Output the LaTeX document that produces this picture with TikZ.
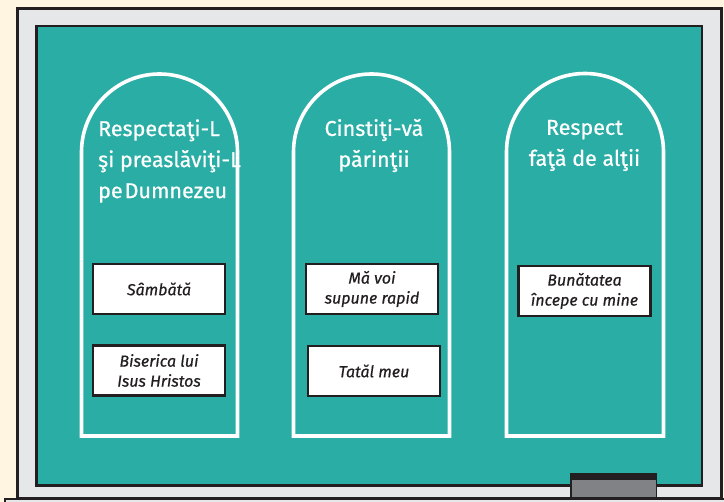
\documentclass[tikz,border=0pt]{standalone}
\usepackage{fontspec}
\setmainfont{Fira Sans}
\newfontfamily\titlefont[FakeBold=0.6]{Fira Sans}
\newfontfamily\cardfont[ItalicFeatures={FakeBold=0.6}]{Fira Sans}
\definecolor{cream}{HTML}{FFF5E1}
\definecolor{frame}{HTML}{E6E7E8}
\definecolor{board}{HTML}{2AADA5}
\definecolor{ink}{HTML}{231F20}
\definecolor{chalk}{HTML}{808285}
\tikzset{
  title/.style={text=white,font=\titlefont\fontsize{21.5}{31}\selectfont,inner sep=0pt},
  card/.style={draw=ink,line width=2.4pt,fill=white,minimum width=132pt,minimum height=50pt,inner sep=0pt,align=center,text=ink,font=\cardfont\fontsize{16}{20}\selectfont\itshape},
  arch/.style={draw=white,line width=3.6pt}
}
\begin{document}
\begin{tikzpicture}[x=1pt,y=-1pt]
\useasboundingbox (0,0) rectangle (724,502);
\fill[cream] (0,0) rectangle (724,502);
\draw[ink,line width=3pt,fill=frame] (17.5,8.5) rectangle (721.5,499);
\draw[ink,line width=2.5pt,fill=board] (36.5,26) rectangle (702,485.5);
\draw[arch] (81.5,436) -- (81.5,152) arc[start angle=180,end angle=360,radius=78] -- (237.5,436) -- cycle;
\draw[arch] (293.5,436) -- (293.5,152) arc[start angle=180,end angle=360,radius=78] -- (449.5,436) -- cycle;
\draw[arch] (506.5,436) -- (506.5,152) arc[start angle=180,end angle=360,radius=78.5] -- (663.5,436) -- cycle;
\node[title,align=left] (t1) at (169.5,161) {Respectaţi-L\\şi preaslăviţi-L\\pe\hspace{2pt}Dumnezeu};
\node[title,align=center] (t2) at (374,145.5) {Cinstiţi-vă\\părinţii\hspace{9pt}};
\node[title,align=center] (t3) at (584.5,145.5) {Respect\\faţă de alţii};
\node[card] (c1) at (159,289) {Sâmbătă};
\node[card] (c2) at (159,370.5) {Biserica lui\\Isus Hristos};
\node[card] (c3) at (372,289) {Mă voi\\supune rapid};
\node[card] (c4) at (374,371) {Tatăl meu};
\node[card] (c5) at (584.5,291) {Bunătatea\\începe cu mine};
\fill[ink] (570,473) rectangle (657,499);
\fill[chalk] (571.5,480) rectangle (655.5,497.5);
\fill[frame] (5,498) rectangle (724,502);
\draw[ink,line width=2pt] (5,502) -- (5,499) -- (724,499);
\end{tikzpicture}
\end{document}
